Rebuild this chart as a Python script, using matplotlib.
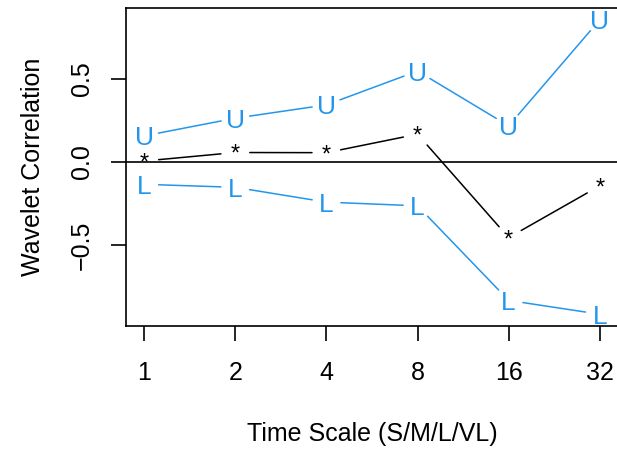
import matplotlib
matplotlib.use("Agg")
import matplotlib.pyplot as plt

# wavelet correlation by time scale, with upper / lower bounds
scales = [1, 2, 4, 8, 16, 32]
corr = [0.006, 0.057, 0.056, 0.167, -0.454, -0.143]
upper = [0.157, 0.263, 0.343, 0.546, 0.217, 0.854]
lower = [-0.134, -0.152, -0.241, -0.263, -0.831, -0.914]

yticks = [-0.5, 0.0, 0.5]
ytick_labels = ["\u22120.5", "0.0", "0.5"]

plt.rcParams['font.family'] = ['Liberation Sans', 'DejaVu Sans']
blue = "#2396EC"

fig = plt.figure(figsize=(6.17, 4.49), dpi=100)
ax = fig.add_axes([126/617, 1-326/449, 492/617, 318/449])

xs = list(range(1, len(scales) + 1))


def draw_b(ys, sym, color, size, gap=10.4):
    # R-style type="b": symbols joined by lines that stop short of them
    for i in range(len(xs) - 1):
        ax.annotate("", xy=(xs[i+1], ys[i+1]), xytext=(xs[i], ys[i]),
                    arrowprops=dict(arrowstyle='-', color=color, lw=1.1,
                                    shrinkA=gap, shrinkB=gap))
    for x, y in zip(xs, ys):
        ax.text(x, y, sym, color=color, fontsize=size,
                ha='center', va='center_baseline')


draw_b(upper, "U", blue, 19)
draw_b(lower, "L", blue, 19)
draw_b(corr, "*", "black", 17)

ax.axhline(0, color='black', lw=1.2)

lo = min(lower)
hi = max(upper)
r = hi - lo
ax.set_ylim(lo - 0.04*r, hi + 0.04*r)
ax.set_xlim(1 - 0.04*5, 6 + 0.04*5)

ax.set_xticks(xs)
ax.set_xticklabels([str(s) for s in scales])
ax.set_yticks(yticks)
ax.set_yticklabels(ytick_labels, rotation=90, va='center')

for s in ax.spines.values():
    s.set_linewidth(1.2)

ax.tick_params(length=11, width=1.2, labelsize=18, pad=12)
ax.tick_params(axis='x', pad=14)

ax.set_xlabel("Time Scale (S/M/L/VL)", fontsize=18, labelpad=27)
ax.set_ylabel("Wavelet Correlation", fontsize=18, labelpad=18)

fig.savefig("out.png", dpi=100)
